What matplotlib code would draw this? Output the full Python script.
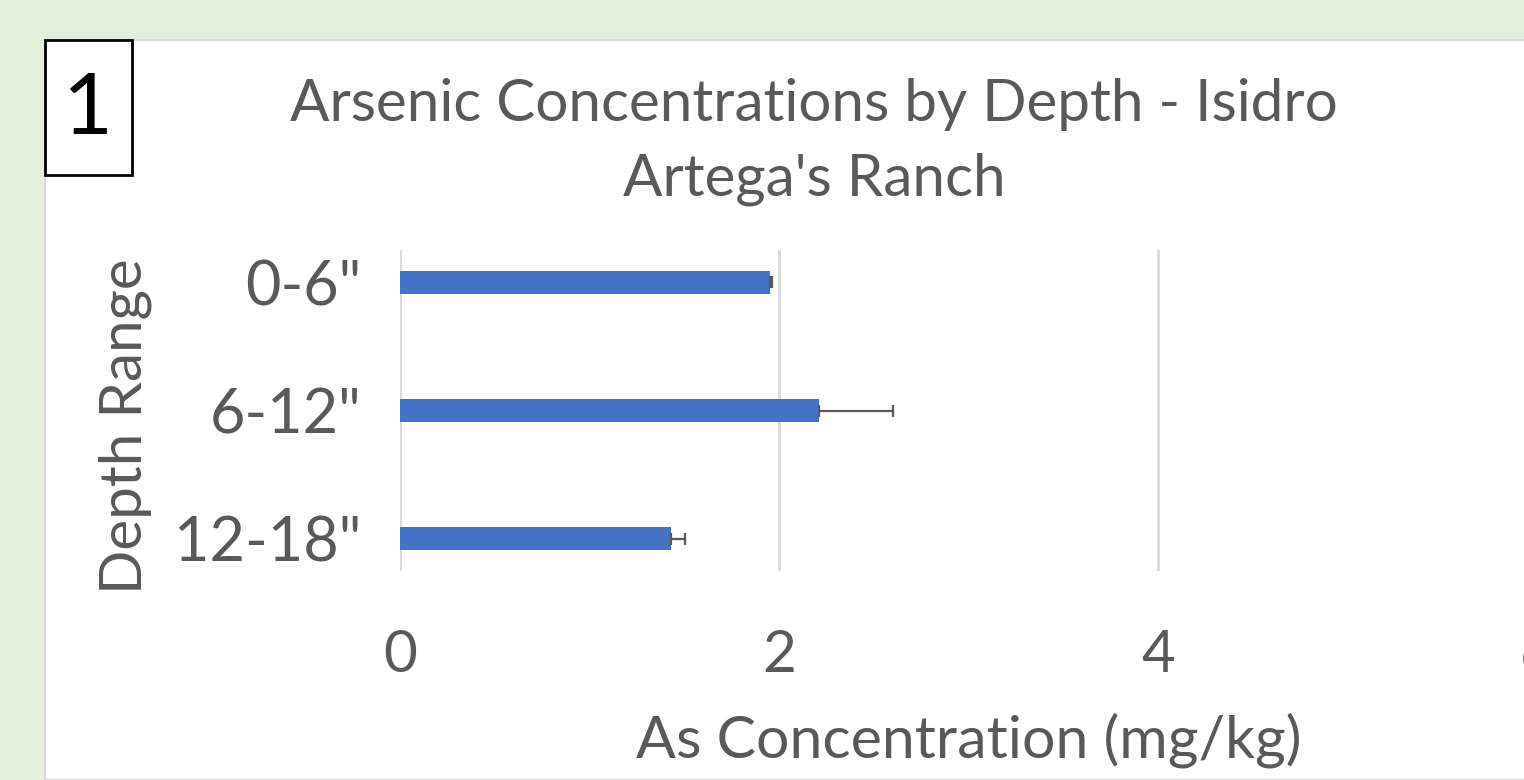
import matplotlib
matplotlib.use("Agg")
import matplotlib.pyplot as plt
from matplotlib.patches import Rectangle

# Data
depths = ['0-6"', '6-12"', '12-18"']
arsenic = [1.95, 2.21, 1.43]
arsenic_err = [0.015, 0.39, 0.075]
x_ticks = [0, 2, 4, 6]

plt.rcParams['font.family'] = ['Lato', 'DejaVu Sans']
GREY = "#595959"

fig = plt.figure(figsize=(15.24, 7.8), dpi=100)
fig.patch.set_facecolor("#E2EFDA")

# white chart panel
fig.patches.append(Rectangle((45 / 1524, 0), 1.2, (780 - 40) / 780,
                             transform=fig.transFigure, facecolor="white",
                             edgecolor="#D9D9D9", linewidth=1.5, zorder=-5))

ax = fig.add_axes([400 / 1524, (780 - 571) / 780, 1137 / 1524, 321 / 780])
ax.set_facecolor("none")

pos = list(range(len(depths)))
ax.barh(pos, arsenic, height=0.18, color="#4472C4", zorder=2)
ax.errorbar(arsenic, pos, xerr=[[0] * len(arsenic_err), arsenic_err],
            fmt="none", ecolor=GREY, elinewidth=1.6, capsize=4.5, capthick=1.6,
            zorder=3)

ax.set_xlim(0, 6)
ax.set_ylim(2.25, -0.25)
ax.set_xticks(x_ticks)
ax.set_yticks(pos)
ax.set_yticklabels(depths)
ax.grid(axis="x", color="#D9D9D9", linewidth=2)
ax.set_axisbelow(True)
for s in ax.spines.values():
    s.set_visible(False)
ax.tick_params(length=0, colors=GREY)
ax.tick_params(axis="y", pad=28, labelsize=44)
ax.tick_params(axis="x", pad=42, labelsize=42)

ax.set_xlabel("As Concentration (mg/kg)", fontsize=42.5, color=GREY)
ax.xaxis.set_label_coords((969 - 400) / 1137, -(740 - 571) / 321)
ax.xaxis.label.set_va("center")
ax.set_ylabel("Depth Range", fontsize=42, color=GREY)
ax.yaxis.set_label_coords(-(400 - 125) / 1137, (571 - 426) / 321)
ax.yaxis.label.set_va("center")

fig.text(814 / 1524, 1 - 142 / 780, "Arsenic Concentrations by Depth - Isidro\nArtega's Ranch",
         ha="center", va="center", fontsize=42, color=GREY, linespacing=1.48)

# panel number box
fig.patches.append(Rectangle((45 / 1524, 1 - 175 / 780), 87 / 1524, 135 / 780,
                             transform=fig.transFigure, facecolor="white",
                             edgecolor="black", linewidth=2, zorder=5))
fig.text(88 / 1524, 1 - 110 / 780, "1", ha="center", va="center",
         fontsize=62, color="black", zorder=6)

fig.savefig("out.png", dpi=100, facecolor=fig.get_facecolor())
